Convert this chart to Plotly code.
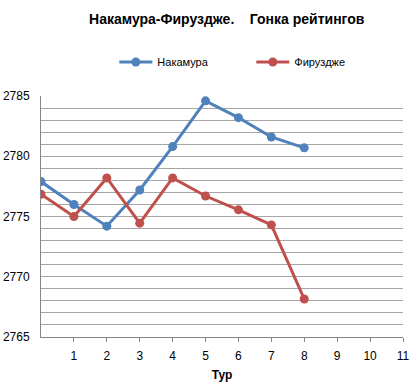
import plotly.graph_objects as go

rounds = [0, 1, 2, 3, 4, 5, 6, 7, 8]
nakamura = [2777.9, 2776.0, 2774.2, 2777.2, 2780.8, 2784.6, 2783.2, 2781.6, 2780.7]
firouzja = [2776.85, 2775.0, 2778.2, 2774.45, 2778.2, 2776.7, 2775.55, 2774.3, 2768.15]
x_ticks = [1, 2, 3, 4, 5, 6, 7, 8, 9, 10, 11]
y_ticks = [2765, 2770, 2775, 2780, 2785]

FONT = "Liberation Sans, Arial, sans-serif"

fig = go.Figure()
fig.add_trace(go.Scatter(x=rounds, y=nakamura, name="Накамура", mode="lines+markers",
                         line=dict(color="#4F81BD", width=3),
                         marker=dict(color="#4F81BD", size=9)))
fig.add_trace(go.Scatter(x=rounds, y=firouzja, name="Фируздже", mode="lines+markers",
                         line=dict(color="#C0504D", width=3),
                         marker=dict(color="#C0504D", size=9)))

fig.update_layout(
    width=416, height=387,
    paper_bgcolor="white", plot_bgcolor="white",
    margin=dict(l=41, r=13, t=96, b=50, autoexpand=False),
    font=dict(family=FONT, size=12, color="black"),
    title=dict(text="<b>Накамура-Фируздже.    Гонка рейтингов</b>",
               x=0.545, xanchor="center", y=1 - 19 / 387, yanchor="middle",
               font=dict(size=14, family=FONT)),
    legend=dict(orientation="h", x=0.581, xanchor="center",
                yref="container", y=1 - 62 / 387, yanchor="middle",
                font=dict(size=11), itemwidth=33, traceorder="normal",
                entrywidth=89, entrywidthmode="pixels"),
    xaxis=dict(range=[0, 11], tickvals=x_ticks, showgrid=False, zeroline=False,
               showline=True, linecolor="#868686", linewidth=1,
               ticks="outside", ticklen=4, tickcolor="#868686",
               ticklabelstandoff=4, automargin=False,
               title=dict(text="<b>Тур</b>", font=dict(size=12), standoff=8)),
    yaxis=dict(range=[2765, 2785], tickvals=y_ticks, zeroline=False,
               showline=True, linecolor="#868686", linewidth=1,
               ticks="", ticklabelstandoff=8, automargin=False,
               gridcolor="#A6A6A6", gridwidth=1,
               minor=dict(dtick=1, showgrid=True, gridcolor="#A6A6A6", gridwidth=1)),
)

fig.write_html("out.html", config={"displayModeBar": False},
               post_script="document.body.style.margin='0';")
